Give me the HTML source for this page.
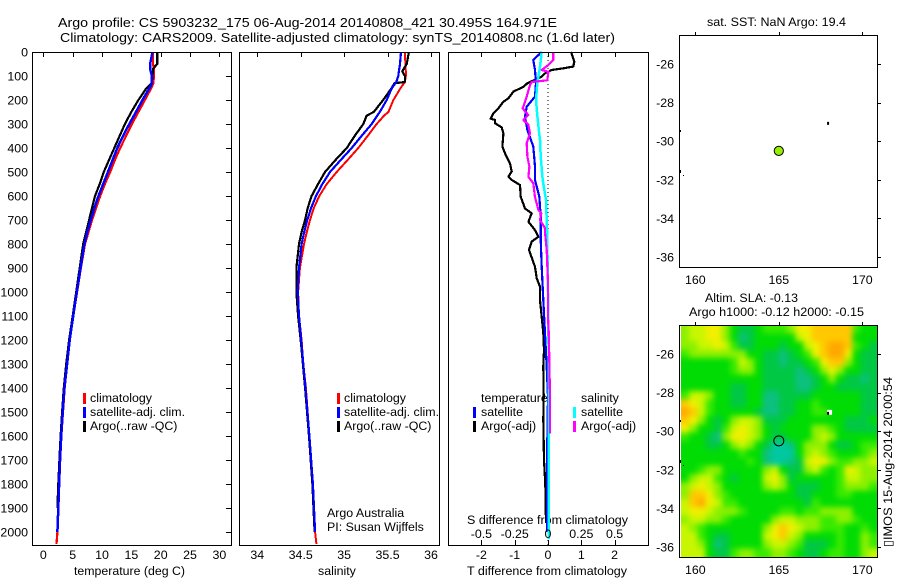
<!DOCTYPE html>
<html>
<head>
<meta charset="utf-8">
<title>Argo profile</title>
<style>
html,body{margin:0;padding:0;background:#fff;}
svg{display:block;}
text{font-family:"Liberation Sans",sans-serif;font-size:12.4px;fill:#000;}
</style>
</head>
<body>
<svg id="fig" xmlns="http://www.w3.org/2000/svg" width="900" height="580" viewBox="0 0 900 580">
<defs>
<clipPath id="slaClip"><rect x="681" y="325" width="197" height="232"/></clipPath>
<filter id="slaBlur" x="660" y="305" width="240" height="275" filterUnits="userSpaceOnUse" color-interpolation-filters="sRGB"><feGaussianBlur stdDeviation="3"/></filter>
</defs>
<rect x="0" y="0" width="900" height="580" fill="#fff"/>
<text x="58" y="27" style="font-size:12.5px" textLength="499" lengthAdjust="spacingAndGlyphs">Argo profile: CS 5903232_175 06-Aug-2014 20140808_421 30.495S 164.971E</text>
<text x="60" y="42" style="font-size:12.5px" textLength="555" lengthAdjust="spacingAndGlyphs">Climatology: CARS2009. Satellite-adjusted climatology: synTS_20140808.nc (1.6d later)</text>
<text x="74" y="575" textLength="111" lengthAdjust="spacingAndGlyphs">temperature (deg C)</text>
<text x="318" y="575">salinity</text>
<text x="467" y="575" textLength="160" lengthAdjust="spacingAndGlyphs">T difference from climatology</text>
<text x="467" y="524" textLength="161" lengthAdjust="spacingAndGlyphs">S difference from climatology</text>
<text x="327" y="517">Argo Australia</text>
<text x="327" y="531">PI: Susan Wijffels</text>
<text x="707" y="26" textLength="139" lengthAdjust="spacingAndGlyphs">sat. SST: NaN Argo: 19.4</text>
<text x="705" y="302" textLength="93" lengthAdjust="spacingAndGlyphs">Altim. SLA: -0.13</text>
<text x="689" y="316" textLength="175" lengthAdjust="spacingAndGlyphs">Argo h1000: -0.12 h2000: -0.15</text>
<text transform="translate(892,547) rotate(-90)" x="0" y="0" textLength="170" lengthAdjust="spacingAndGlyphs">▯IMOS 15-Aug-2014 20:00:54</text>
<g id="layer"></g>
</svg>
<script>
// ---------- profile data ----------
const depthTicks = [0,100,200,300,400,500,600,700,800,900,1000,1100,1200,1300,1400,1500,1600,1700,1800,1900,2000];
const tempTicks = [0,5,10,15,20,25,30];
const salTicks = [34,34.5,35,35.5,36];
const salTickLabels = ["34","34.5","35","35.5","36"];
const diffTTicks = [-2,-1,0,1,2];
const diffSTicks = [-0.5,-0.25,0,0.25,0.5];
const lonTicks = [160,165,170];
const latTicks = [-26,-28,-30,-32,-34,-36];

const tempDepths = [0,50,70,100,130,150,200,250,300,350,400,450,500,550,600,650,700,750,800,900,1000,1100,1200,1300,1400,1500,1600,1700,1800,1900,2000,2050];
const tempClim = [18.7,18.7,18.8,18.85,18.75,18.4,17.3,16.2,15.1,14.1,13.1,12.2,11.4,10.5,9.7,9,8.3,7.7,7.1,6.4,5.75,5.1,4.5,4.05,3.65,3.35,3.08,2.88,2.72,2.56,2.4,2.25];
const tempSat = [18.6,18.2,18.2,18.5,18.5,18.1,16.9,15.8,14.65,13.6,12.6,11.8,11,10.2,9.4,8.7,8.1,7.5,7,6.35,5.7,5.1,4.5,4.05,3.6,3.3,3.05,2.85,2.7,2.55,2.4,null];
const tempArgo = [19.4,19.4,18.7,18.6,18.5,17.6,16.2,15,13.9,13,12.1,11.2,10.3,9.6,8.8,8.3,7.8,7.3,6.8,6.2,5.6,5,4.4,3.9,3.5,3.2,2.95,2.75,2.55,2.4,null,null];

const salDepths = [0,50,80,100,125,130,150,200,250,265,300,350,400,450,500,550,600,650,700,750,800,900,1000,1100,1200,1300,1400,1600,1800,2000,2050];
const salClim = [35.7,35.705,35.71,35.71,35.7,35.69,35.65,35.567,35.51,35.46,35.375,35.27,35.163,35.04,34.914,34.8,34.714,34.65,34.607,34.57,34.538,34.49,34.47,34.48,34.51,34.53,34.56,34.6,34.64,34.665,34.68];
const salSat = [35.655,35.643,35.63,35.624,35.6,35.59,35.55,35.49,35.41,35.38,35.317,35.2,35.087,34.96,34.837,34.75,34.676,34.62,34.576,34.54,34.51,34.48,34.465,34.48,34.505,34.53,34.555,34.6,34.64,34.665,null];
const salArgo = [35.746,35.72,35.67,35.7,35.7,35.58,35.547,35.45,35.34,35.26,35.22,35.12,35.03,34.9,34.78,34.7,34.625,34.58,34.55,34.51,34.48,34.45,34.45,34.47,34.5,34.525,34.55,34.595,34.635,34.66,null];

const dTArgoDepths = [0,19,40,61,68,75,89,103,130,145,165,193,207,235,256,278,283,297,314,339,394,422,464,498,519,533,554,603,652,672,707,742,770,790,825,895,943,978,1034,1103,1172,1242,1311,1436,1530,1700,1800,1962];
const dTArgo = [0.69,0.74,0.79,0.76,0.46,0.11,-0.09,-0.19,-0.62,-0.74,-1.04,-1.19,-1.34,-1.49,-1.64,-1.72,-1.59,-1.59,-1.39,-1.34,-1.37,-1.29,-1.14,-1.09,-1.19,-1.09,-0.84,-0.82,-0.69,-0.49,-0.59,-0.39,-0.29,-0.49,-0.57,-0.39,-0.34,-0.24,-0.24,-0.19,-0.14,-0.12,-0.14,-0.13,-0.14,-0.12,-0.08,-0.06];

const dTSatDepths = [0,33,75,130,186,228,270,325,394,478,533,603,686,780,895,1034,1172,1311,1436,1700,2000];
const dTSat = [-0.19,-0.44,-0.39,-0.36,-0.39,-0.64,-0.69,-0.62,-0.44,-0.39,-0.39,-0.26,-0.22,-0.22,-0.19,-0.14,-0.09,-0.04,0,-0.03,-0.02];

const dSSatDepths = [0,61,130,200,283,367,436,533,617,700,780,1000,1300,2030];
const dSSat = [-0.047,-0.06,-0.08,-0.09,-0.077,-0.06,-0.055,-0.04,-0.015,-0.01,-0.005,0,0.005,0.005];

const dSArgoDepths = [0,33,54,75,82,118,125,138,186,235,263,283,303,339,381,436,478,520,547,603,658,672,700,735,756,825,964,1103,1172,1436,1590];
const dSArgo = [0.04,0.04,0.0025,-0.048,0.003,-0.005,-0.122,-0.135,-0.16,-0.19,-0.148,-0.185,-0.148,-0.135,-0.16,-0.155,-0.14,-0.147,-0.11,-0.098,-0.072,-0.05,-0.06,-0.022,-0.022,-0.01,0,0,0.006,0.015,0.015];

const zeroLineDepths = [0,2054];
const zeroLineValues = [0,0];

// ---------- map data ----------
const floatLon = [165];
const floatLat = [-30.5];
const islandLon = [167.95];
const islandLat = [-29.05];
const slaColors = ["#00c8a0","#0cc080","#00c844","#00dc04","#38ea00","#8cf000","#c8f600","#f0f000","#ffc800","#ffa800"];
const slaRow00 = [5,6,6,7,7,5,3,2,2,3,4,4,4,5,7,7,8,8,8,8,8,4,3,3];
const slaRow01 = [5,6,6,7,7,5,3,1,2,3,3,3,3,3,6,7,8,8,8,8,8,3,3,3];
const slaRow02 = [5,5,6,6,7,6,4,2,2,3,3,3,2,3,3,6,7,8,9,9,8,4,3,2];
const slaRow03 = [4,5,5,5,5,5,5,5,3,3,2,2,1,2,3,4,7,8,9,9,7,3,2,2];
const slaRow04 = [3,3,3,3,3,3,4,6,5,3,2,2,1,2,2,3,4,7,8,8,5,3,2,2];
const slaRow05 = [3,3,3,3,3,3,4,5,5,3,2,2,2,2,1,2,3,5,7,5,3,3,2,2];
const slaRow06 = [3,3,3,3,3,3,3,3,3,3,2,2,2,2,1,1,2,3,5,3,2,2,1,2];
const slaRow07 = [3,3,3,3,3,3,2,2,3,3,2,2,2,2,1,1,2,3,3,2,2,2,2,2];
const slaRow08 = [4,6,6,5,3,3,2,2,3,3,1,1,2,2,2,2,3,3,3,3,3,3,2,2];
const slaRow09 = [8,7,6,4,3,3,2,2,3,3,1,1,2,2,3,3,4,3,3,3,3,3,2,2];
const slaRow10 = [9,8,6,4,3,3,3,3,3,2,1,1,2,2,3,3,4,4,3,3,3,3,2,2];
const slaRow11 = [8,7,5,3,2,3,5,6,6,5,2,2,2,3,3,3,3,3,3,3,2,2,2,3];
const slaRow12 = [7,5,3,3,2,4,6,7,6,5,3,2,3,3,3,3,5,5,4,3,2,2,2,2];
const slaRow13 = [4,3,3,2,1,5,7,7,6,5,3,2,2,3,3,3,5,6,5,3,3,3,3,3];
const slaRow14 = [3,3,3,2,2,3,5,6,5,3,2,0,0,1,3,5,5,5,3,2,2,3,4,4];
const slaRow15 = [3,3,3,3,3,3,3,4,3,3,1,0,0,0,3,5,6,5,4,3,3,3,4,5];
const slaRow16 = [3,3,3,3,3,3,3,3,4,3,1,0,0,1,2,6,7,7,5,4,4,5,5,6];
const slaRow17 = [3,3,4,5,5,3,3,3,3,3,5,6,3,2,2,5,6,4,3,4,7,6,5,5];
const slaRow18 = [3,5,6,6,4,3,2,3,3,3,6,7,5,2,3,3,3,3,3,4,6,6,5,5];
const slaRow19 = [5,6,7,6,5,3,3,3,3,3,5,6,5,3,2,2,2,3,3,4,5,5,5,4];
const slaRow20 = [5,8,8,7,5,4,3,3,3,3,3,3,3,3,2,2,3,3,3,4,4,3,3,3];
const slaRow21 = [6,8,9,7,6,4,4,3,3,3,3,3,3,3,3,2,4,3,3,3,3,3,3,3];
const slaRow22 = [6,7,7,6,5,5,5,4,3,3,3,3,4,4,3,4,4,5,5,5,5,3,3,3];
const slaRow23 = [5,6,6,5,5,4,3,3,3,3,3,5,6,6,5,5,5,4,4,5,5,4,3,3];
const slaRow24 = [6,5,4,3,3,3,3,3,3,3,5,7,8,7,6,5,5,4,4,4,3,3,4,3];
const slaRow25 = [6,6,4,3,2,2,3,3,3,3,6,7,8,6,5,3,3,3,3,4,3,3,5,4];
const slaRow26 = [6,6,5,3,1,2,3,3,3,3,5,6,6,5,4,2,2,2,3,4,3,3,5,4];
const slaRow27 = [6,6,6,3,2,2,4,5,5,4,4,5,5,4,3,2,2,3,4,4,3,3,5,6];
const slaGrid = [slaRow00,slaRow01,slaRow02,slaRow03,slaRow04,slaRow05,slaRow06,slaRow07,slaRow08,slaRow09,slaRow10,slaRow11,slaRow12,slaRow13,slaRow14,slaRow15,slaRow16,slaRow17,slaRow18,slaRow19,slaRow20,slaRow21,slaRow22,slaRow23,slaRow24,slaRow25,slaRow26,slaRow27];

// ---------- axis functions ----------
const SVGNS = "http://www.w3.org/2000/svg";
const layer = document.getElementById("layer");
let target = layer;
const yDepth = d => 52 + d * 0.24;
const xTemp = t => 43.3 + t * 5.87;
const xSal = s => 257.3 + (s - 34) * 86.85;
const xDT = v => 548 + v * 33.3;
const xDS = v => 548 + v * 133.2;
const xLon = lon => 695.3 + (lon - 160) * 16.7;
const yLat1 = lat => 64 + (-26 - lat) * 19.3;
const yLat2 = lat => 354 + (-26 - lat) * 19.3;

function shape(tag, attrs, name) {
  const el = document.createElementNS(SVGNS, tag);
  for (const k in attrs) el.setAttribute(k, attrs[k]);
  
  
  target.appendChild(el);
  return el;
}
function label(x, y, str, anchor, name) {
  const el = document.createElementNS(SVGNS, "text");
  el.setAttribute("x", x);
  el.setAttribute("y", y);
  el.setAttribute("text-anchor", anchor);
  el.textContent = str;
  
  
  target.appendChild(el);
  return el;
}
function series(depths, values, xf, color, width, name) {
  const pts = [];
  depths.forEach((d, i) => {
    if (values[i] !== null && values[i] !== undefined) pts.push(xf(values[i]).toFixed(1) + "," + yDepth(d).toFixed(1));
  });
  shape("polyline", {points: pts.join(" "), fill: "none", stroke: color, "stroke-width": width, "stroke-linejoin": "round", "shape-rendering": "crispEdges"}, name);
}
function frame(x0, y0, x1, y1, name) {
  shape("rect", {x: x0, y: y0, width: x1 - x0, height: y1 - y0, fill: "none", stroke: "#000", "stroke-width": 1, "shape-rendering": "crispEdges"}, name);
}
function tick(x1, y1, x2, y2, name) {
  shape("line", {x1: x1, y1: y1, x2: x2, y2: y2, stroke: "#000", "stroke-width": 1, "shape-rendering": "crispEdges"}, name);
}
function legendMark(x, y, color, name) {
  shape("rect", {x: x, y: y - 5, width: 3, height: 11, fill: color}, name);
}

// ---------- temperature panel ----------
series(tempDepths, tempClim, xTemp, "#f00", 2.2, "temperature-climatology-line");
series(tempDepths, tempArgo, xTemp, "#000", 2.2, "temperature-argo-line");
series(tempDepths, tempSat, xTemp, "#00f", 2.5, "temperature-satellite-line");
frame(32.5, 52.5, 231.5, 545.5, "temperature-panel-frame");
depthTicks.forEach(d => {
  tick(226, Math.round(yDepth(d)) + 0.5, 231, Math.round(yDepth(d)) + 0.5, "depth-tick");
  label(28, yDepth(d) + 4.5, String(d), "end", "depth-tick-label");
});
tempTicks.forEach(t => {
  tick(Math.round(xTemp(t)) + 0.5, 52, Math.round(xTemp(t)) + 0.5, 57, "temperature-tick");
  label(xTemp(t), 559, String(t), "middle", "temperature-tick-label");
});
legendMark(83, 398, "#f00", "legend-mark-climatology");
legendMark(83, 412, "#00f", "legend-mark-satellite");
legendMark(83, 426, "#000", "legend-mark-argo");
label(90, 402, "climatology", "start", "legend-entry-climatology");
label(90, 416, "satellite-adj. clim.", "start", "legend-entry-satellite");
label(90, 430, "Argo(..raw -QC)", "start", "legend-entry-argo");

// ---------- salinity panel ----------
series(salDepths, salClim, xSal, "#f00", 2, "salinity-climatology-line");
series(salDepths, salArgo, xSal, "#000", 2.2, "salinity-argo-line");
series(salDepths, salSat, xSal, "#00f", 2.2, "salinity-satellite-line");
frame(239.5, 52.5, 439.5, 545.5, "salinity-panel-frame");
salTicks.forEach((s, i) => {
  tick(Math.round(xSal(s)) + 0.5, 52, Math.round(xSal(s)) + 0.5, 57, "salinity-tick");
  label(xSal(s), 559, salTickLabels[i], "middle", "salinity-tick-label");
});
legendMark(337, 398, "#f00", "legend-mark-climatology-salinity");
legendMark(337, 412, "#00f", "legend-mark-satellite-salinity");
legendMark(337, 426, "#000", "legend-mark-argo-salinity");
label(344, 402, "climatology", "start", "legend-entry-climatology-salinity");
label(344, 416, "satellite-adj. clim.", "start", "legend-entry-satellite-salinity");
label(344, 430, "Argo(..raw -QC)", "start", "legend-entry-argo-salinity");

// ---------- difference panel ----------
shape("polyline", {points: zeroLineValues.map((v, i) => xDT(v) + "," + yDepth(zeroLineDepths[i])).join(" "), fill: "none", stroke: "#000", "stroke-width": 1, "stroke-dasharray": "1 3"}, "zero-difference-line");
series(dTArgoDepths, dTArgo, xDT, "#000", 2.2, "t-difference-argo-line");
series(dTSatDepths, dTSat, xDT, "#00f", 2.2, "t-difference-satellite-line");
series(dSSatDepths, dSSat, xDS, "#0ff", 2.5, "s-difference-satellite-line");
series(dSArgoDepths, dSArgo, xDS, "#f0f", 2.2, "s-difference-argo-line");
frame(448.5, 52.5, 648.5, 545.5, "difference-panel-frame");
diffTTicks.forEach(t => {
  const x = Math.round(xDT(t)) + 0.5;
  tick(x, 52, x, 57, "t-difference-tick-top");
  tick(x, 540, x, 545, "t-difference-tick-bottom");
  label(xDT(t), 559, String(t), "middle", "t-difference-tick-label");
});
diffSTicks.forEach(s => {
  label(xDS(s), 538, String(s), "middle", "s-difference-tick-label");
});
label(481, 402, "temperature", "start", "legend-title-temperature");
label(581, 402, "salinity", "start", "legend-title-salinity");
legendMark(473, 412, "#00f", "legend-mark-t-satellite");
legendMark(473, 426, "#000", "legend-mark-t-argo");
legendMark(573, 412, "#0ff", "legend-mark-s-satellite");
legendMark(573, 426, "#f0f", "legend-mark-s-argo");
label(481, 416, "satellite", "start", "legend-entry-t-satellite");
label(481, 430, "Argo(-adj)", "start", "legend-entry-t-argo");
label(581, 416, "satellite", "start", "legend-entry-s-satellite");
label(581, 430, "Argo(-adj)", "start", "legend-entry-s-argo");

// ---------- SLA heatmap (smoothed like the original field) ----------
const lonStart = 159.14, lonCell = 0.489, latStart = -24.5, latCell = 0.4285;
const heatClip = document.createElementNS(SVGNS, "g");
heatClip.setAttribute("clip-path", "url(#slaClip)");


layer.appendChild(heatClip);
const heatBlur = document.createElementNS(SVGNS, "g");
heatBlur.setAttribute("filter", "url(#slaBlur)");


heatClip.appendChild(heatBlur);
target = heatBlur;
slaGrid.forEach((row, r) => {
  row.forEach((v, c) => {
    // outermost cells are stretched past the frame so the blur keeps full colour at the edges
    const x0 = xLon(lonStart + c * lonCell) - (c === 0 ? 16 : 0);
    const x1 = xLon(lonStart + (c + 1) * lonCell) + (c === row.length - 1 ? 16 : 0);
    const y0 = yLat2(latStart - r * latCell) - (r === 0 ? 16 : 0);
    const y1 = yLat2(latStart - (r + 1) * latCell) + (r === slaGrid.length - 1 ? 16 : 0);
    shape("rect", {x: x0.toFixed(2), y: y0.toFixed(2), width: (x1 - x0 + 0.4).toFixed(2), height: (y1 - y0 + 0.4).toFixed(2), fill: slaColors[v], "shape-rendering": "crispEdges"}, "sla-heatmap-cell");
  });
});
target = layer;

// ---------- maps: frames, ticks, markers ----------
[[35, yLat1, "sst", 284], [325, yLat2, "sla", 574]].forEach(cfg => {
  const top = cfg[0], yf = cfg[1], key = cfg[2], base = cfg[3];
  frame(679.5, top + 0.5, 877.5, top + 232.5, key + "-map-frame");
  lonTicks.forEach(lon => {
    const x = Math.round(xLon(lon)) + 0.5;
    tick(x, top - 3, x, top, key + "-longitude-tick");
    label(xLon(lon), base, String(lon), "middle", key + "-longitude-label");
  });
  latTicks.forEach(lat => {
    const y = Math.round(yf(lat)) + 0.5;
    tick(878, y, 881, y, key + "-latitude-tick");
    label(674, yf(lat) + 4.5, String(lat), "end", key + "-latitude-label");
  });
});
floatLon.forEach((lon, i) => {
  shape("circle", {cx: xLon(lon), cy: yLat1(floatLat[i]), r: 4.6, fill: "#98ee00", stroke: "#000", "stroke-width": 1}, "sst-float-marker");
  shape("circle", {cx: xLon(lon), cy: yLat2(floatLat[i]), r: 5, fill: "none", stroke: "#000", "stroke-width": 1}, "sla-float-marker");
});
islandLon.forEach((lon, i) => {
  shape("rect", {x: xLon(lon) - 1, y: yLat1(islandLat[i]) - 1, width: 2, height: 3, fill: "#000"}, "sst-island-mark");
  shape("rect", {x: xLon(lon) - 1, y: yLat2(islandLat[i]) - 3, width: 5, height: 5, fill: "#fff"}, "sla-island-background");
  shape("rect", {x: xLon(lon) - 1, y: yLat2(islandLat[i]) - 1, width: 2, height: 3, fill: "#000"}, "sla-island-mark");
});
shape("rect", {x: 679, y: 130, width: 2, height: 2, fill: "#000"}, "sst-coast-mark-1");
shape("rect", {x: 679, y: 170, width: 2, height: 3, fill: "#000"}, "sst-coast-mark-2");
shape("rect", {x: 683, y: 175, width: 1, height: 1, fill: "#000"}, "sst-coast-mark-3");
shape("rect", {x: 679, y: 420, width: 2, height: 2, fill: "#000"}, "sla-coast-mark-1");
shape("rect", {x: 679, y: 460, width: 2, height: 3, fill: "#000"}, "sla-coast-mark-2");
shape("rect", {x: 683, y: 465, width: 1, height: 1, fill: "#000"}, "sla-coast-mark-3");
</script>
</body>
</html>
